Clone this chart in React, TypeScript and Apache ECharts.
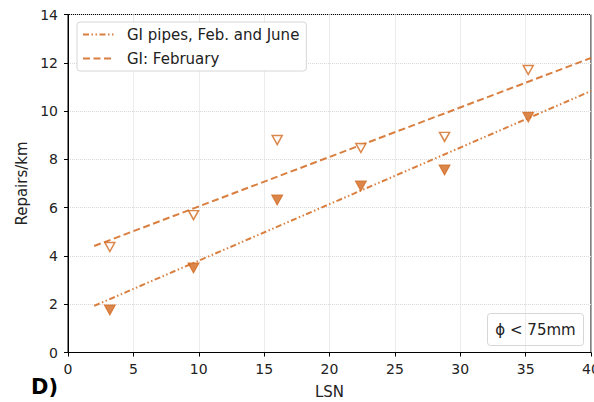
import React, { useEffect, useRef } from "react";
import * as echarts from "echarts";

// LSN positions of the sampled groups
const lsn = [3.2, 9.6, 16.0, 22.4, 28.8, 35.2];
// Repairs/km, February only (open markers)
const febRepairs = [4.37, 5.69, 8.8, 8.47, 8.93, 11.7];
// Repairs/km, February and June (filled markers)
const febJuneRepairs = [1.76, 3.5, 6.32, 6.9, 7.56, 9.75];

// Fitted trend lines (endpoints)
const fitX = [2, 40];
const febJuneFit = [1.93, 10.83];
const febFit = [4.41, 12.2];

const xTicks = [0, 5, 10, 15, 20, 25, 30, 35, 40];
const yTicks = [0, 2, 4, 6, 8, 10, 12, 14];

const ORANGE = "#D2691E";
const FONT = "DejaVu Sans";

export default function App() {
  const ref = useRef<HTMLDivElement>(null);

  useEffect(() => {
    if (!ref.current) return;
    const chart = echarts.init(ref.current, null, { renderer: "svg" });

    const pair = (xs: number[], ys: number[]) => xs.map((x, i) => [x, ys[i]]);

    chart.setOption({
      animation: false,
      backgroundColor: "#ffffff",
      textStyle: { fontFamily: FONT },
      grid: {
        left: 68,
        right: 3,
        top: 14.5,
        bottom: 49.5,
        containLabel: false,
        outerBoundsMode: "none",
        show: true,
        borderColor: "#000",
        borderWidth: 1,
        backgroundColor: "transparent",
      },
      legend: {
        left: 77,
        top: 22,
        orient: "vertical",
        data: ["GI pipes, Feb. and June", "GI: February"],
        backgroundColor: "#fff",
        borderColor: "#d6d6d6",
        borderWidth: 1,
        borderRadius: 3,
        padding: [5, 7, 5, 5],
        itemWidth: 31,
        itemHeight: 14,
        itemGap: 9,
        itemStyle: { opacity: 0 },
        textStyle: { fontFamily: FONT, fontSize: 15, color: "#222", padding: [0, 0, 0, 8] },
      },
      xAxis: {
        type: "value",
        min: 0,
        max: 40,
        interval: 5,
        name: "LSN",
        nameLocation: "middle",
        nameGap: 32,
        nameTextStyle: { fontFamily: FONT, fontSize: 15, color: "#222" },
        axisLine: { show: true, lineStyle: { color: "#000", width: 1 } },
        axisTick: { show: true, inside: false, length: 4, lineStyle: { color: "#000" } },
        axisLabel: {
          fontFamily: FONT,
          fontSize: 14,
          color: "#222",
          margin: 9,
          formatter: (v: number) => (xTicks.includes(v) ? String(v) : ""),
        },
        splitLine: { show: true, lineStyle: { color: "#d8d8d8", type: "dotted", width: 1 } },
      },
      yAxis: {
        type: "value",
        min: 0,
        max: 14,
        interval: 2,
        name: "Repairs/km",
        nameLocation: "middle",
        nameGap: 38,
        nameTextStyle: { fontFamily: FONT, fontSize: 15, color: "#222" },
        axisLine: { show: true, lineStyle: { color: "#000", width: 1 } },
        axisTick: { show: true, inside: false, length: 4, lineStyle: { color: "#000" } },
        axisLabel: {
          fontFamily: FONT,
          fontSize: 14,
          color: "#222",
          margin: 10,
          formatter: (v: number) => (yTicks.includes(v) ? String(v) : ""),
        },
        splitLine: { show: true, lineStyle: { color: "#d8d8d8", type: "dotted", width: 1 } },
      },
      series: [
        {
          name: "GI pipes, Feb. and June",
          type: "line",
          data: pair(fitX, febJuneFit),
          showSymbol: false,
          symbol: "none",
          itemStyle: { color: ORANGE },
          lineStyle: { color: ORANGE, width: 2, opacity: 0.85, type: [6, 2.5, 1.5, 2.5, 1.5, 2.5] },
          z: 2,
        },
        {
          name: "GI: February",
          type: "line",
          data: pair(fitX, febFit),
          showSymbol: false,
          symbol: "none",
          itemStyle: { color: ORANGE },
          lineStyle: { color: ORANGE, width: 2, opacity: 0.85, type: [7, 3.5] },
          z: 2,
        },
        {
          name: "Feb. and June",
          type: "scatter",
          data: pair(lsn, febJuneRepairs),
          symbol: "triangle",
          symbolRotate: 180,
          symbolSize: [11, 10],
          itemStyle: { color: ORANGE, borderColor: ORANGE, borderWidth: 1 },
          z: 3,
        },
        {
          name: "February",
          type: "scatter",
          data: pair(lsn, febRepairs),
          symbol: "triangle",
          symbolRotate: 180,
          symbolSize: [10, 9],
          itemStyle: { color: "#fff", borderColor: ORANGE, borderWidth: 1.5 },
          z: 3,
        },
      ],
      graphic: [
        {
          type: "group",
          left: 487,
          top: 313,
          children: [
            {
              type: "rect",
              shape: { x: 0, y: 0, width: 96, height: 32, r: 3 },
              style: { fill: "#fff", stroke: "#d6d6d6", lineWidth: 1 },
            },
            {
              type: "text",
              x: 48,
              y: 16,
              style: {
                text: "ϕ < 75mm",
                font: `15px '${FONT}'`,
                fill: "#222",
                align: "center",
                verticalAlign: "middle",
              },
            },
          ],
        },
        {
          type: "text",
          left: 31,
          top: 376,
          style: {
            text: "D)",
            font: `bold 21px '${FONT}'`,
            fill: "#000",
          },
        },
      ],
    });

    return () => chart.dispose();
  }, []);

  return (
    <div
      ref={ref}
      style={{ position: "fixed", left: 0, top: 0, width: 594, height: 402 }}
    />
  );
}
